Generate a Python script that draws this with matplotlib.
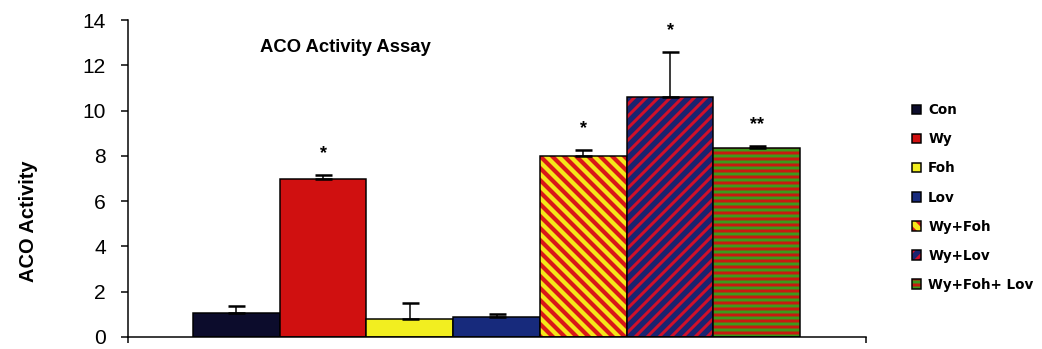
import numpy as np
import matplotlib
matplotlib.use("Agg")
import matplotlib.pyplot as plt
from matplotlib.legend_handler import HandlerTuple

# ACO activity assay, bar chart with upper error bars

groups = ["Con", "Wy", "Foh", "Lov", "Wy+Foh", "Wy+Lov", "Wy+Foh+ Lov"]
activity = [1.05, 7.0, 0.8, 0.9, 8.0, 10.6, 8.35]
err_up = [0.31, 0.17, 0.7, 0.12, 0.27, 2.0, 0.1]
signif = ["", "*", "", "", "*", "*", "**"]
yticks = [0, 2, 4, 6, 8, 10, 12, 14]

# styles
face = ["#0c0c2c", "#d01010", "#f2ee20", "#172a7c", "#f5e61a", "#1a2470", "#3c9a1c"]
stripe = ["none", "none", "none", "none", "#d81818", "#d0102a", "#c81a10"]
hatches = [None, None, None, None, "\\\\", "//", "--"]
hatch_lw = [1, 1, 1, 1, 4.2, 3.0, 3.0]

plt.rcParams["font.family"] = ["Liberation Sans", "DejaVu Sans"]

W, H, DPI = 1042, 349, 72
fig = plt.figure(figsize=(W / DPI, H / DPI), dpi=DPI)
ax = fig.add_axes([128 / W, 12 / H, 738 / W, 317 / H])

x = np.arange(len(groups))
handles = []
for i in range(len(groups)):
    plt.rcParams["hatch.linewidth"] = hatch_lw[i]
    b1 = ax.bar(x[i], activity[i], width=1.0, color=face[i],
                edgecolor=stripe[i], hatch=hatches[i], linewidth=0)[0]
    if hasattr(b1, "set_hatch_linewidth"):
        b1.set_hatch_linewidth(hatch_lw[i])
    b2 = ax.bar(x[i], activity[i], width=1.0, fill=False,
                edgecolor="black", linewidth=1.5)[0]
    handles.append((b1, b2))

ax.errorbar(x, activity, yerr=[np.zeros(len(x)), err_up], fmt="none",
            ecolor="black", elinewidth=1.5, capsize=8.5, capthick=2.5)

for xi, v, e, s in zip(x, activity, err_up, signif):
    if s:
        ax.annotate(s, (xi, v + e), xytext=(0, 17), textcoords="offset points",
                    ha="center", va="baseline", fontsize=18, fontweight="bold")

xl = (-1.25, 7.26)
ax.set_xlim(xl)
ax.set_ylim(0, 14)
ax.set_yticks(yticks)
ax.set_xticks(list(xl))
ax.set_xticklabels([])
ax.tick_params(axis="y", direction="out", length=7, width=1.5, pad=15, labelsize=21)
ax.tick_params(axis="x", direction="out", length=6, width=1.5)
for sp in ["top", "right"]:
    ax.spines[sp].set_visible(False)
for sp in ["left", "bottom"]:
    ax.spines[sp].set_linewidth(1.5)

fig.text(345 / W, 1 - 48 / H, "ACO Activity Assay", ha="center", va="center",
         fontsize=18.5, fontweight="bold")
fig.text(28 / W, 1 - 221 / H, "ACO Activity", ha="center", va="center",
         rotation=90, fontsize=20, fontweight="bold")

ax.legend(handles, groups, handler_map={tuple: HandlerTuple(ndivide=1)},
          loc="center left", bbox_to_anchor=(912 / W, 1 - 197.5 / H),
          bbox_transform=fig.transFigure, frameon=False, borderpad=0,
          borderaxespad=0, handlelength=0.7, handleheight=0.7,
          handletextpad=0.5, labelspacing=1.12,
          prop={"size": 13.5, "weight": "bold", "family": "DejaVu Sans"})

fig.savefig("out.png", dpi=DPI)
